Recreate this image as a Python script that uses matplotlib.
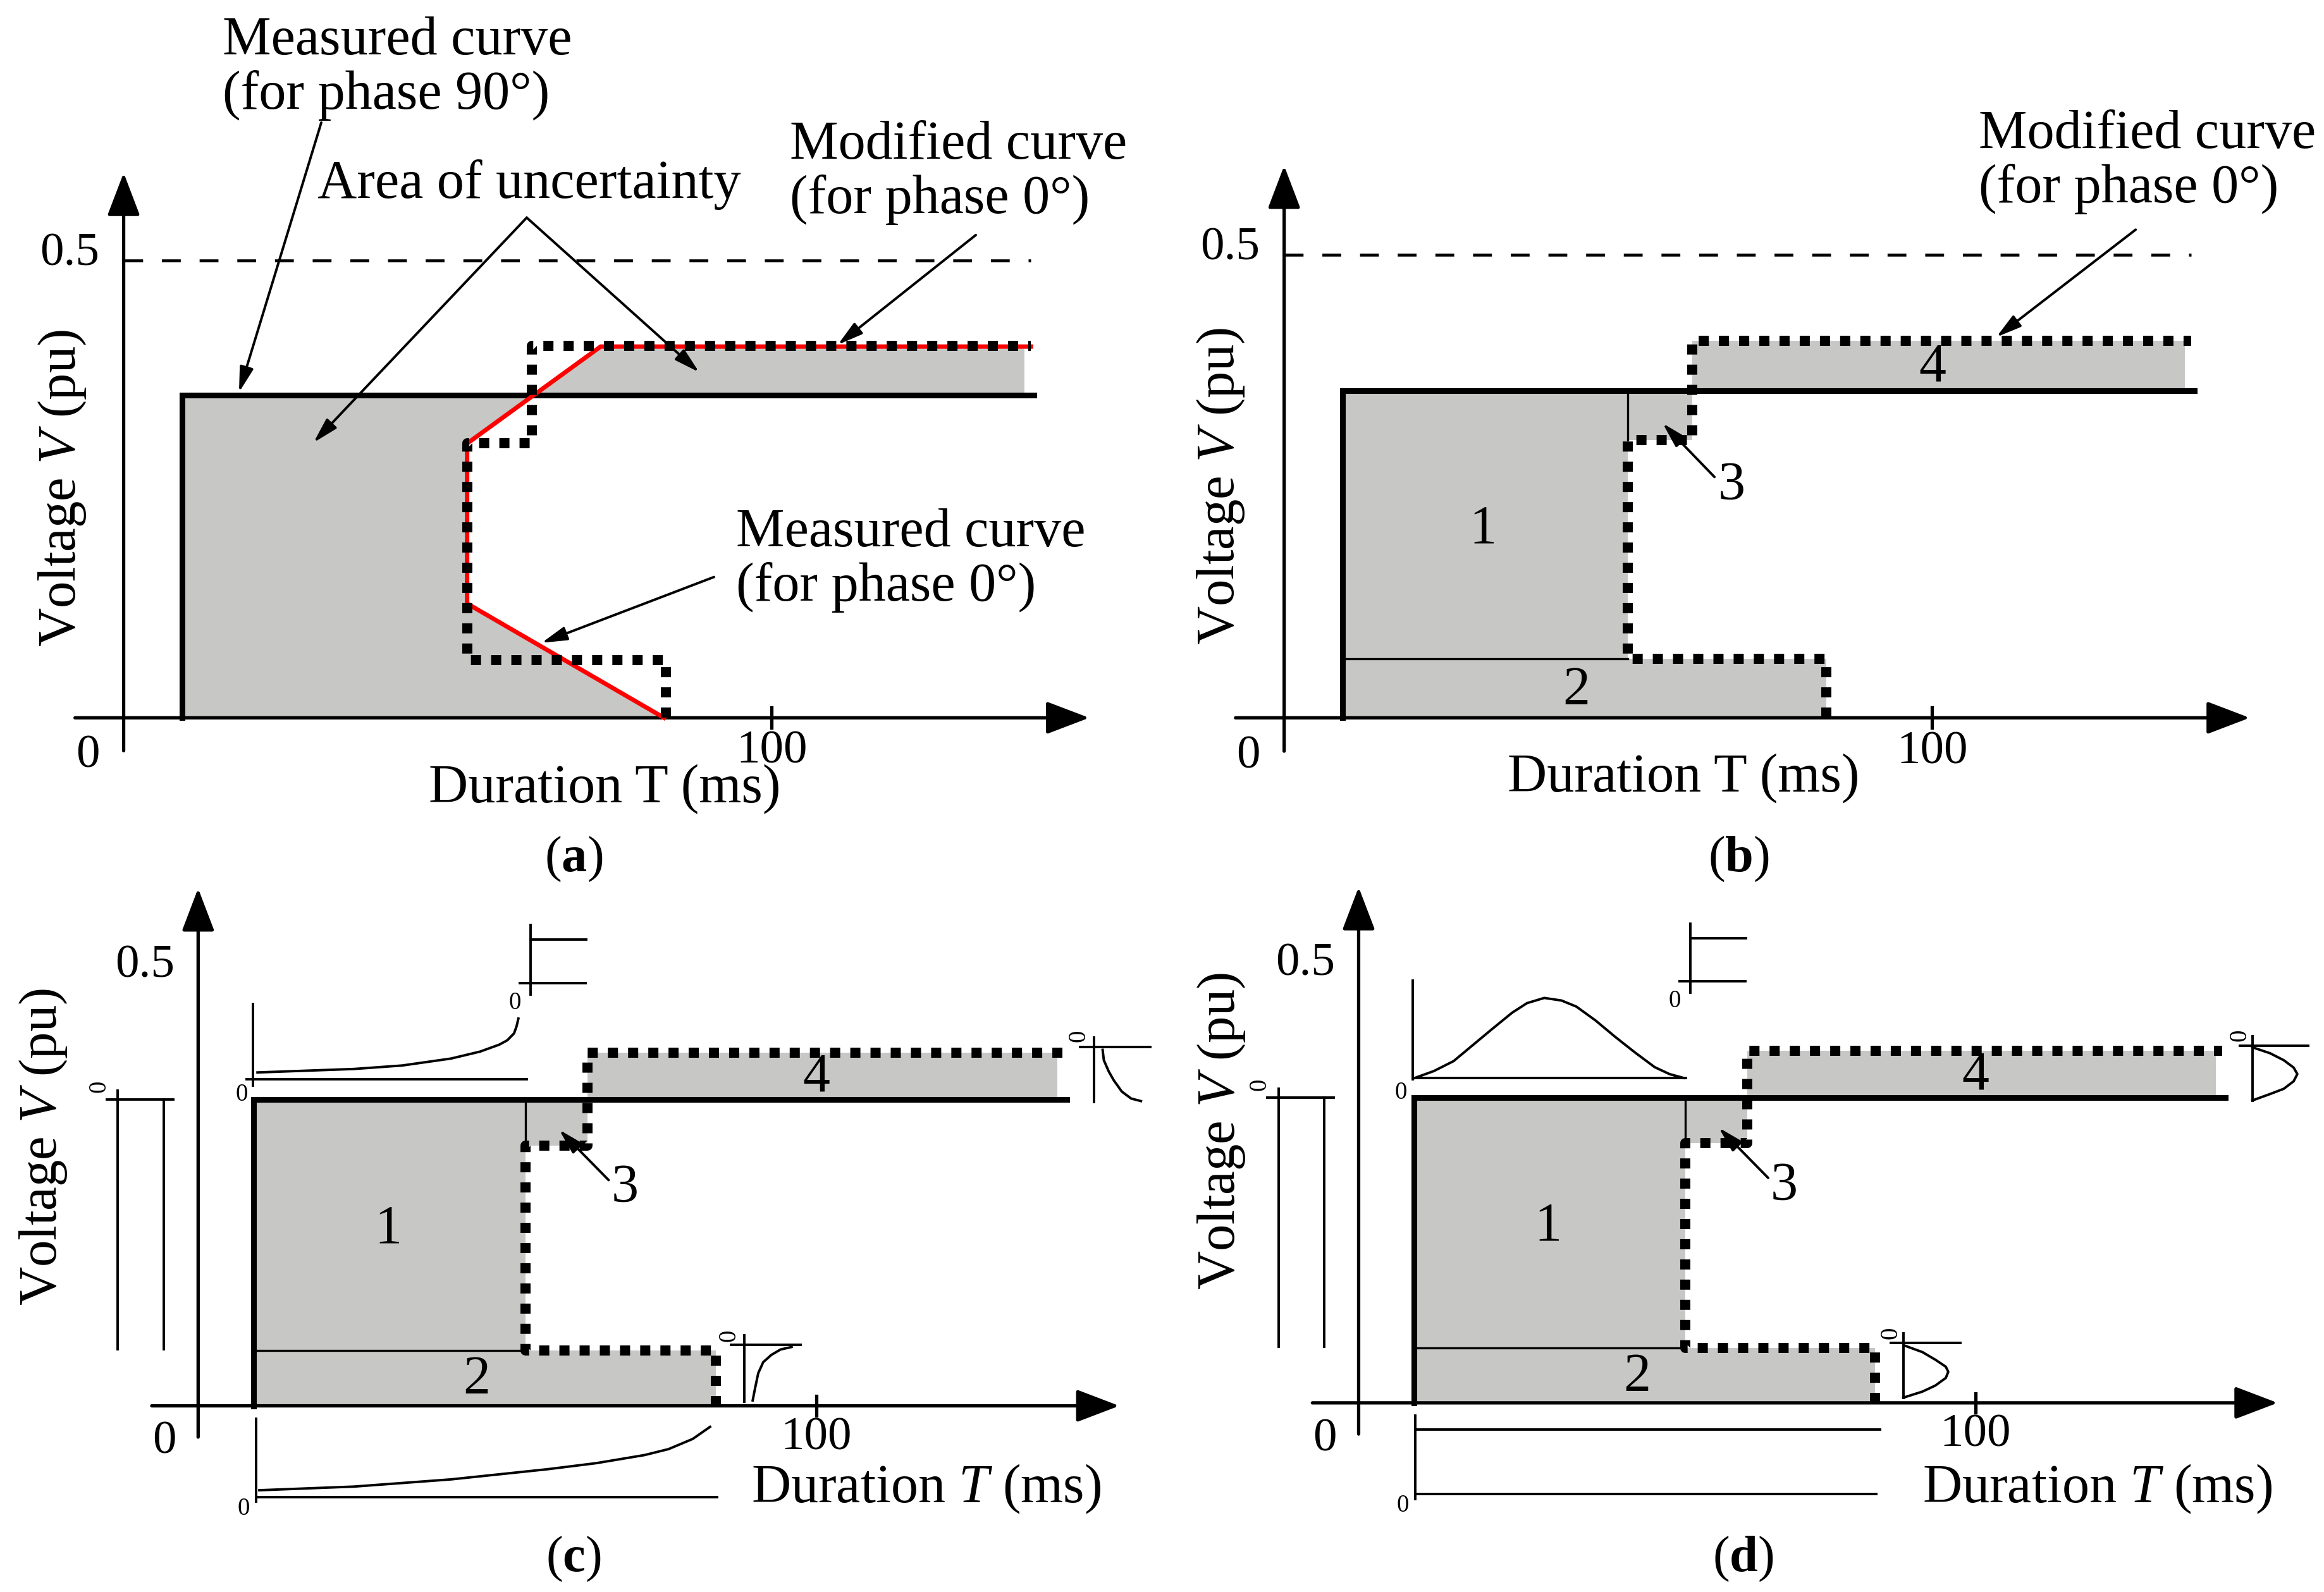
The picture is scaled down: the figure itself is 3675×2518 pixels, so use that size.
import numpy as np
import matplotlib.pyplot as plt

plt.rcParams['font.family'] = ['Liberation Serif', 'DejaVu Serif']
plt.rcParams['mathtext.fontset'] = 'custom'
plt.rcParams['mathtext.rm'] = 'Liberation Serif'
plt.rcParams['mathtext.it'] = 'Liberation Serif:italic'
plt.rcParams['mathtext.bf'] = 'Liberation Serif:bold'

GRAY = '#c7c7c5'

# ---- curves, duration T in ms and voltage V in pu ----
t_meas90 = [9.0, 9.0, 140.5]          # measured curve, phase 90 deg
v_meas90 = [0.0, 0.353, 0.353]

t_mod = [83.7, 83.7, 53.0, 53.0, 63.0, 63.0, 140.0]   # modified curve, phase 0 deg
v_mod = [0.0, 0.0635, 0.0635, 0.300, 0.300, 0.407, 0.407]

t_meas0 = [83.4, 53.0, 53.0, 73.6, 140.0]   # measured curve, phase 0 deg (red)
v_meas0 = [0.0, 0.125, 0.300, 0.406, 0.406]

v_limit = 0.5
t_limit_end = 140.0
t_fill_end = 139.0
t_tick = 100

# ---- distribution sketches (same units) ----
# uniform V pdf for region 1, left of the V axis (c, d)
u1_axis_t, u1_axis_v = [-14.8, -4.0], [0.353, 0.353]
u1_base_t, u1_base_v = [-13.0, -13.0], [0.363, 0.065]
u1_dens_t, u1_dens_v = [-5.6, -5.6], [0.353, 0.065]
u1_zero = (-16.0, 0.368)

# uniform T pdf for region 3, above the plot (c, d)
u3_axis_t, u3_axis_v = [53.8, 53.8], [0.474, 0.554]
u3_base_t, u3_base_v = [52.0, 62.7], [0.487, 0.487]
u3_dens_t, u3_dens_v = [53.8, 62.8], [0.537, 0.537]
u3_zero = (51.2, 0.464)

# T pdf for region 1, above the plot
c1_axis_t, c1_axis_v = [8.9, 8.9], [0.369, 0.463]
c1_base_t, c1_base_v = [7.8, 53.2], [0.376, 0.376]
c1_pdf_t = [9.6, 25.2, 33.0, 40.9, 45.6, 48.7, 50.0, 51.1, 51.5, 51.8]
c1_pdf_v = [0.384, 0.388, 0.392, 0.400, 0.408, 0.416, 0.421, 0.429, 0.437, 0.446]
c1_zero = (7.0, 0.358)

d1_axis_t, d1_axis_v = [8.8, 8.8], [0.374, 0.488]
d1_base_t, d1_base_v = [8.8, 53.1], [0.3755, 0.3755]
d1_pdf_t = [9.1, 12.2, 15.4, 18.6, 21.8, 24.9, 27.3, 30.1, 32.9, 35.3, 38.4, 41.6, 44.8, 48.0, 50.4, 52.7]
d1_pdf_v = [0.3755, 0.3835, 0.395, 0.414, 0.433, 0.451, 0.462, 0.468, 0.465, 0.458, 0.442, 0.423,
            0.405, 0.388, 0.380, 0.3755]
d1_zero = (6.8, 0.358)

# T pdf for region 2, below the T axis
c2_axis_t, c2_axis_v = [9.4, 9.4], [-0.015, -0.110]
c2_base_t, c2_base_v = [9.4, 83.9], [-0.105, -0.105]
c2_pdf_t = [9.9, 25.2, 40.9, 56.5, 64.4, 72.2, 76.1, 80.0, 82.8]
c2_pdf_v = [-0.0972, -0.0930, -0.0847, -0.0730, -0.0660, -0.0567, -0.0498, -0.0381, -0.0242]
c2_zero = (7.4, -0.119)

d2_axis_t, d2_axis_v = [9.2, 9.2], [-0.015, -0.111]
d2_base_t, d2_base_v = [9.2, 83.9], [-0.105, -0.105]
d2_pdf_t, d2_pdf_v = [9.2, 84.5], [-0.031, -0.031]
d2_zero = (7.1, -0.119)

# V pdf for region 2, right of the plot
c2v_axis_t, c2v_axis_v = [86.2, 97.4], [0.070, 0.070]
c2v_base_t, c2v_base_v = [88.3, 88.3], [0.081, 0.005]
c2v_pdf_t = [89.7, 90.1, 90.6, 91.4, 92.7, 94.2, 96.0]
c2v_pdf_v = [0.0063, 0.0209, 0.0377, 0.0503, 0.0586, 0.0649, 0.0678]
c2v_zero = (85.9, 0.081)

d2v_axis_t, d2v_axis_v = [86.3, 97.6], [0.0693, 0.0693]
d2v_base_t, d2v_base_v = [88.3, 88.3], [0.0805, 0.006]
d2v_pdf_t = [88.4, 91.4, 93.5, 95.2, 95.6, 95.2, 93.5, 91.4, 88.3]
d2v_pdf_v = [0.0665, 0.0587, 0.0499, 0.0418, 0.0359, 0.0288, 0.0200, 0.0130, 0.0060]
d2v_zero = (86.3, 0.081)

# V pdf for region 4, right of the plot
c4v_axis_t, c4v_axis_v = [142.7, 154.0], [0.413, 0.413]
c4v_base_t, c4v_base_v = [144.9, 144.9], [0.424, 0.350]
c4v_pdf_t = [146.3, 146.5, 147.3, 148.1, 149.4, 150.9, 152.5]
c4v_pdf_v = [0.410, 0.398, 0.385, 0.375, 0.362, 0.354, 0.351]
c4v_zero = (142.5, 0.426)

d4v_axis_t, d4v_axis_v = [142.9, 154.0], [0.413, 0.413]
d4v_base_t, d4v_base_v = [144.9, 144.9], [0.424, 0.349]
d4v_pdf_t = [144.9, 147.8, 150.0, 151.6, 152.2, 151.6, 150.0, 147.8, 144.9]
d4v_pdf_v = [0.411, 0.404, 0.396, 0.3875, 0.380, 0.3717, 0.363, 0.357, 0.3495]
d4v_zero = (142.9, 0.425)

# ---- figure ----
REF_W, REF_H = 1560.0, 1069.0
fig = plt.figure(figsize=(36.75, 25.18), dpi=100)

AXIS_ARROW = dict(arrowstyle='-|>,head_length=2.1,head_width=0.8', lw=3.8, color='k',
                  shrinkA=0, shrinkB=0, mutation_scale=20)
NOTE_ARROW = dict(arrowstyle='-|>,head_length=1.1,head_width=0.3', lw=2.8, color='k',
                  shrinkA=0, shrinkB=0, mutation_scale=22)
FS = 62
FS_NUM = 54
FS_V = 61


def make_panel(x0, y0, sx, sy):
    xlim = (-40.0, 170.0)
    ylim = (-0.25, 0.80)
    left = (x0 + xlim[0] * sx) / REF_W
    width = (xlim[1] - xlim[0]) * sx / REF_W
    bottom = 1 - (y0 - ylim[0] * sy) / REF_H
    height = (ylim[1] - ylim[0]) * sy / REF_H
    ax = fig.add_axes([left, bottom, width, height])
    ax.set_xlim(*xlim)
    ax.set_ylim(*ylim)
    ax.set_axis_off()
    ax.set_facecolor('none')
    return ax


def base(ax, dashed, tlabel, tpos, vlabel, vpos):
    ax.annotate('', xy=(149, 0), xytext=(-7.5, 0), arrowprops=AXIS_ARROW)
    ax.annotate('', xy=(0, 0.596), xytext=(0, -0.036), arrowprops=AXIS_ARROW)
    ax.plot([t_tick, t_tick], [-0.011, 0.011], color='k', lw=3.8, clip_on=False)
    ax.text(-5.5, -0.042, '0', ha='center', va='center', fontsize=FS_NUM)
    ax.text(t_tick, -0.037, str(t_tick), ha='center', va='center', fontsize=FS_NUM)
    ax.text(-3.8, v_limit + 0.007, '0.5', ha='right', va='center', fontsize=FS_NUM)
    if dashed:
        ax.plot([0, t_limit_end], [v_limit, v_limit], color='k', lw=3.3,
                ls=(0, (6.5, 6.5)), clip_on=False)
    ax.text(tpos[0], tpos[1], tlabel, ha='center', va='center', fontsize=FS)
    ax.text(vpos[0], vpos[1], vlabel, ha='center', va='center', fontsize=FS_V,
            rotation=90)


def curves(ax, split):
    if split:
        ax.fill_betweenx([v_mod[0], v_mod[1], v_mod[3], v_meas90[1]], t_meas90[0],
                         [t_mod[0], t_mod[2], t_mod[4], t_mod[4]], step='post',
                         color=GRAY, lw=0, zorder=1)
        ax.fill_between([t_mod[5], t_fill_end], v_meas90[1], v_mod[5], color=GRAY,
                        lw=0, zorder=1)
        ax.plot([t_mod[2], t_mod[2]], [v_mod[3], v_meas90[1]], color='k', lw=2.4, zorder=2)
        ax.plot([t_meas90[0], t_mod[2]], [v_mod[1], v_mod[1]], color='k', lw=2.4, zorder=2)
    ax.plot(t_meas90, v_meas90, color='k', lw=6.5, solid_joinstyle='miter', zorder=3,
            clip_on=False)
    ax.plot(t_mod, v_mod, color='k', lw=11.5, ls=(0, (1, 1)), zorder=5, clip_on=False)


def sketch(ax, axis, base_line, pdf, zero, rot):
    for t, v in (axis, base_line, pdf):
        ax.plot(t, v, color='k', lw=2.8, clip_on=False, zorder=4)
    ax.text(zero[0], zero[1], '0', ha='center', va='center', fontsize=28, rotation=rot)


# (a)
ax = make_panel(83, 482, 4.35, 614)
base(ax, True, 'Duration T (ms)', (74.2, -0.078), 'Voltage $V$ (pu)', (-9.4, 0.251))
cross_t = np.interp(v_meas90[1], [v_meas0[2], v_meas0[3]], [t_meas0[2], t_meas0[3]])
poly_t = [t_meas90[0], t_meas90[1], cross_t, t_meas0[3], t_fill_end, t_fill_end, cross_t,
          t_meas0[2], t_meas0[1], t_meas0[0]]
poly_v = [v_meas90[0], v_meas90[1], v_meas90[1], v_meas0[3], v_meas0[4], v_meas90[1],
          v_meas90[1], v_meas0[2], v_meas0[1], v_meas0[0]]
ax.fill(poly_t, poly_v, color=GRAY, lw=0, zorder=1)
curves(ax, False)
ax.plot(t_meas0, v_meas0, color='#ff0000', lw=5.0, zorder=4, clip_on=False)
ax.text(15.3, 0.710, 'Measured curve\n(for phase 90°)', ha='left', va='center',
        fontsize=FS, linespacing=1.1)
ax.annotate('', xy=(17.8, 0.356), xytext=(30.5, 0.651), arrowprops=NOTE_ARROW)
ax.text(29.9, 0.583, 'Area of uncertainty', ha='left', va='center', fontsize=FS)
ax.annotate('', xy=(29.3, 0.301), xytext=(62.2, 0.547), arrowprops=NOTE_ARROW)
ax.annotate('', xy=(88.8, 0.378), xytext=(62.2, 0.547), arrowprops=NOTE_ARROW)
ax.text(102.8, 0.596, 'Modified curve\n(for phase 0°)', ha='left', va='center',
        fontsize=FS, linespacing=1.1)
ax.annotate('', xy=(110.2, 0.408), xytext=(131.5, 0.528), arrowprops=NOTE_ARROW)
ax.text(94.5, 0.172, 'Measured curve\n(for phase 0°)', ha='left', va='center',
        fontsize=FS, linespacing=1.1)
ax.annotate('', xy=(64.5, 0.082), xytext=(91.1, 0.154), arrowprops=NOTE_ARROW)

# (b)
ax = make_panel(862, 482, 4.35, 622)
base(ax, True, 'Duration T (ms)', (61.6, -0.065), 'Voltage $V$ (pu)', (-9.7, 0.250))
curves(ax, True)
ax.text(107.2, 0.600, 'Modified curve\n(for phase 0°)', ha='left', va='center',
        fontsize=FS, linespacing=1.1)
ax.annotate('', xy=(109.9, 0.411), xytext=(131.4, 0.527), arrowprops=NOTE_ARROW)

# (c)
ax_c = make_panel(133, 944, 4.15, 583)
base(ax_c, False, 'Duration $T$ (ms)', (117.8, -0.096), 'Voltage $V$ (pu)', (-25.0, 0.298))
curves(ax_c, True)
sketch(ax_c, (u1_axis_t, u1_axis_v), (u1_base_t, u1_base_v), (u1_dens_t, u1_dens_v), u1_zero, 90)
sketch(ax_c, (u3_axis_t, u3_axis_v), (u3_base_t, u3_base_v), (u3_dens_t, u3_dens_v), u3_zero, 0)
sketch(ax_c, (c1_axis_t, c1_axis_v), (c1_base_t, c1_base_v), (c1_pdf_t, c1_pdf_v), c1_zero, 0)
sketch(ax_c, (c2_axis_t, c2_axis_v), (c2_base_t, c2_base_v), (c2_pdf_t, c2_pdf_v), c2_zero, 0)
sketch(ax_c, (c2v_axis_t, c2v_axis_v), (c2v_base_t, c2v_base_v), (c2v_pdf_t, c2v_pdf_v), c2v_zero, 90)
sketch(ax_c, (c4v_axis_t, c4v_axis_v), (c4v_base_t, c4v_base_v), (c4v_pdf_t, c4v_pdf_v), c4v_zero, 90)

# (d)
ax_d = make_panel(912, 942, 4.14, 581)
base(ax_d, False, 'Duration $T$ (ms)', (119.8, -0.100), 'Voltage $V$ (pu)', (-22.2, 0.314))
curves(ax_d, True)
sketch(ax_d, (u1_axis_t, u1_axis_v), (u1_base_t, u1_base_v), (u1_dens_t, u1_dens_v), u1_zero, 90)
sketch(ax_d, (u3_axis_t, u3_axis_v), (u3_base_t, u3_base_v), (u3_dens_t, u3_dens_v), u3_zero, 0)
sketch(ax_d, (d1_axis_t, d1_axis_v), (d1_base_t, d1_base_v), (d1_pdf_t, d1_pdf_v), d1_zero, 0)
sketch(ax_d, (d2_axis_t, d2_axis_v), (d2_base_t, d2_base_v), (d2_pdf_t, d2_pdf_v), d2_zero, 0)
sketch(ax_d, (d2v_axis_t, d2v_axis_v), (d2v_base_t, d2v_base_v), (d2v_pdf_t, d2v_pdf_v), d2v_zero, 90)
sketch(ax_d, (d4v_axis_t, d4v_axis_v), (d4v_base_t, d4v_base_v), (d4v_pdf_t, d4v_pdf_v), d4v_zero, 90)

# region numbers in (b), (c), (d)
for ax in fig.axes[1:]:
    ax.text(30.7, 0.203, '1', ha='center', va='center', fontsize=FS)
    ax.text(45.1, 0.029, '2', ha='center', va='center', fontsize=FS)
    ax.text(69.0, 0.250, '3', ha='center', va='center', fontsize=FS)
    ax.text(100.0, 0.378, '4', ha='center', va='center', fontsize=FS)
    ax.annotate('', xy=(58.4, 0.318), xytext=(66.4, 0.260), arrowprops=NOTE_ARROW)

# sub-figure captions
for lab, (cx, cy) in zip('abcd', [(385, 577), (1167, 577), (385, 1047), (1170, 1047)]):
    fig.text(cx / REF_W, 1 - cy / REF_H, '($\\mathbf{%s}$)' % lab, ha='center',
             va='center', fontsize=58)

fig.savefig('out.png', dpi=100)
